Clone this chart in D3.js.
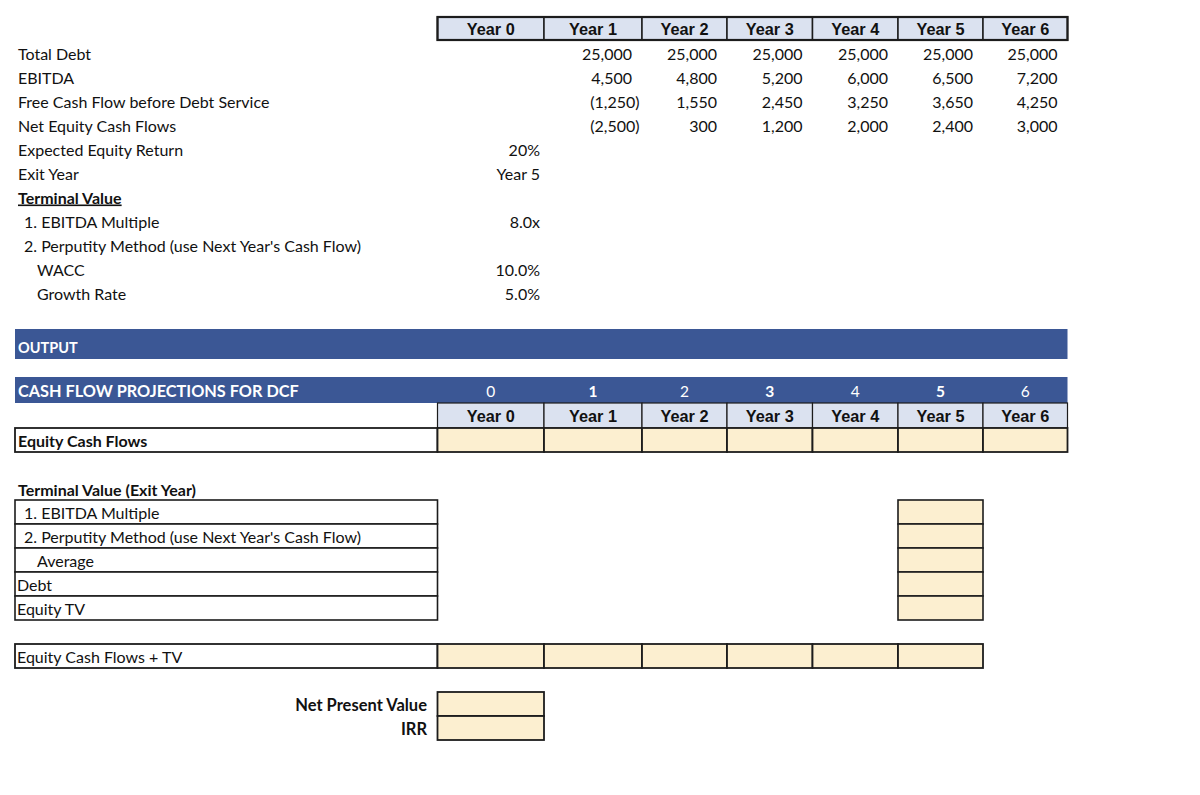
<!DOCTYPE html>
<html>
<head>
<meta charset="utf-8">
<script src="https://cdn.jsdelivr.net/npm/d3@7"></script>
<style>
  html, body { margin: 0; padding: 0; background: #ffffff; }
  svg { display: block; }
</style>
</head>
<body>
<svg id="chart" width="1200" height="795"></svg>
<script>
// ---------------- DATA ----------------
const years = ["Year 0", "Year 1", "Year 2", "Year 3", "Year 4", "Year 5", "Year 6"];
const periods = [0, 1, 2, 3, 4, 5, 6];

const inputLabels = ["Total Debt", "EBITDA", "Free Cash Flow before Debt Service", "Net Equity Cash Flows"];
const totalDebt = [null, 25000, 25000, 25000, 25000, 25000, 25000];
const ebitda = [null, 4500, 4800, 5200, 6000, 6500, 7200];
const freeCashFlow = [null, -1250, 1550, 2450, 3250, 3650, 4250];
const netEquityCashFlows = [null, -2500, 300, 1200, 2000, 2400, 3000];

const assumptionLabels = ["Expected Equity Return", "Exit Year", "Terminal Value", " 1. EBITDA Multiple",
  " 2. Perputity Method (use Next Year's Cash Flow)", "WACC", "Growth Rate"];
const assumptionValues = ["20%", "Year 5", "", "8.0x", "", "10.0%", "5.0%"];

const outputTitle = "OUTPUT";
const projTitle = "CASH FLOW PROJECTIONS FOR DCF";
const tvTitle = "Terminal Value (Exit Year)";
const tvLabels = ["1. EBITDA Multiple", "2. Perputity Method (use Next Year's Cash Flow)", "Average", "Debt", "Equity TV"];
const exitYear = "Year 5";
const eqcfLabel = "Equity Cash Flows";
const eqcfTvLabel = "Equity Cash Flows + TV";
const eqcfTvYears = ["Year 0", "Year 1", "Year 2", "Year 3", "Year 4", "Year 5"];
const resultLabels = ["Net Present Value", "IRR"];

// ---------------- LAYOUT ----------------
const colWidths = [106.5, 98, 85, 85.5, 85.5, 85, 84.5];
const col0 = 437.5;
const labelLeft = 15;
const colLeft = d3.scaleOrdinal().domain(years)
  .range(colWidths.map((w, i) => col0 + d3.sum(colWidths.slice(0, i))));
const colW = d3.scaleOrdinal().domain(years).range(colWidths);
const tableRight = col0 + d3.sum(colWidths);

const yTop = d3.scaleLinear().domain([0, 1]).range([17, 41]);     // upper block rows
const yLow = d3.scaleLinear().domain([0, 1]).range([428, 452]);   // lower block rows
const rowH = 24;

const BLUE = "#3b5795";
const HEAD = "#dbe2f0";
const YEL = "#fcefd0";
const LINE = "#1c1c1c";
const LABEL_FONT = "Lato, 'Open Sans', sans-serif";
const HEAD_FONT = "'Liberation Sans', Arial, sans-serif";
const FS = 16;
const HFS = 16.3;
const BL = 18.5; // baseline offset within a row

const svg = d3.select("#chart");

const fmtNum = v => {
  if (v == null) return "";
  const s = d3.format(",")(Math.abs(v));
  return v < 0 ? "(" + s + ")" : s;
};

// ---------- Top header row ----------
const head = svg.append("g");
head.selectAll("rect").data(years).join("rect")
  .attr("x", d => colLeft(d)).attr("y", yTop(0))
  .attr("width", d => colW(d)).attr("height", 23)
  .attr("fill", HEAD).attr("stroke", LINE).attr("stroke-width", 1.5);
head.append("rect").attr("x", col0).attr("y", yTop(0)).attr("width", tableRight - col0).attr("height", 23)
  .attr("fill", "none").attr("stroke", LINE).attr("stroke-width", 2.2);
head.selectAll("text").data(years).join("text")
  .attr("x", d => colLeft(d) + colW(d) / 2).attr("y", yTop(0) + 17.5)
  .attr("text-anchor", "middle").attr("font-family", HEAD_FONT).attr("font-weight", "bold")
  .attr("font-size", HFS).attr("fill", "#111").text(d => d);

// ---------- Input rows ----------
const inputSeries = [totalDebt, ebitda, freeCashFlow, netEquityCashFlows];
const inRows = svg.append("g");
inputLabels.forEach((lab, r) => {
  const yy = yTop(r + 1) + BL;
  inRows.append("text").attr("x", 18).attr("y", yy)
    .attr("font-family", LABEL_FONT).attr("font-size", FS).attr("fill", "#111").text(lab);
  inRows.append("g").selectAll("text").data(years).join("text")
    .attr("x", (d, i) => colLeft(d) + colW(d) - (inputSeries[r][i] < 0 ? 2.5 : 10))
    .attr("y", yy).attr("text-anchor", "end")
    .attr("font-family", LABEL_FONT).attr("font-size", FS).attr("fill", "#111")
    .text((d, i) => fmtNum(inputSeries[r][i]));
});

// ---------- Assumptions ----------
const asg = svg.append("g");
assumptionLabels.forEach((lab, r) => {
  const yy = yTop(r + 5) + BL;
  let x = 18;
  if (lab.startsWith(" ")) x = 24;
  if (lab === "WACC" || lab === "Growth Rate") x = 37;
  const t = asg.append("text").attr("x", x).attr("y", yy)
    .attr("font-family", LABEL_FONT).attr("font-size", FS).attr("fill", "#111").text(lab.trim());
  if (lab === "Terminal Value") {
    t.attr("font-weight", "bold").attr("text-decoration", "underline");
  }
  asg.append("text").attr("x", colLeft("Year 0") + colW("Year 0") - 4).attr("y", yy)
    .attr("text-anchor", "end").attr("font-family", LABEL_FONT).attr("font-size", FS)
    .attr("fill", "#111").text(assumptionValues[r]);
});

// ---------- OUTPUT bar ----------
svg.append("rect").attr("x", labelLeft).attr("y", 329).attr("width", tableRight - labelLeft).attr("height", 30)
  .attr("fill", BLUE);
svg.append("text").attr("x", 18).attr("y", 353).attr("font-family", LABEL_FONT).attr("font-weight", "bold")
  .attr("font-size", 14.5).attr("fill", "#fff").text(outputTitle);

// ---------- Projection bar ----------
svg.append("rect").attr("x", labelLeft).attr("y", 377).attr("width", tableRight - labelLeft).attr("height", 26)
  .attr("fill", BLUE);
svg.append("text").attr("x", 18).attr("y", 396.5).attr("font-family", LABEL_FONT).attr("font-weight", "bold")
  .attr("font-size", 16.3).attr("fill", "#fff").text(projTitle);
svg.append("g").selectAll("text").data(periods).join("text")
  .attr("x", (d, i) => colLeft(years[i]) + colW(years[i]) / 2).attr("y", 396.5)
  .attr("text-anchor", "middle").attr("font-family", LABEL_FONT)
  .attr("font-weight", d => d % 2 === 1 ? "bold" : "normal")
  .attr("font-size", 15.5).attr("fill", "#fff").text(d => d);

// ---------- Second header row ----------
const head2 = svg.append("g");
head2.selectAll("rect").data(years).join("rect")
  .attr("x", d => colLeft(d)).attr("y", 403)
  .attr("width", d => colW(d)).attr("height", 25)
  .attr("fill", HEAD).attr("stroke", LINE).attr("stroke-width", 1.2);
head2.selectAll("text").data(years).join("text")
  .attr("x", d => colLeft(d) + colW(d) / 2).attr("y", 421.5)
  .attr("text-anchor", "middle").attr("font-family", HEAD_FONT).attr("font-weight", "bold")
  .attr("font-size", HFS).attr("fill", "#111").text(d => d);

// ---------- Equity Cash Flows row ----------
const eqg = svg.append("g");
eqg.append("rect").attr("x", labelLeft).attr("y", yLow(0)).attr("width", col0 - labelLeft).attr("height", rowH)
  .attr("fill", "#fff").attr("stroke", LINE).attr("stroke-width", 1.8);
eqg.selectAll("rect.c").data(years).join("rect").attr("class", "c")
  .attr("x", d => colLeft(d)).attr("y", yLow(0)).attr("width", d => colW(d)).attr("height", rowH)
  .attr("fill", YEL).attr("stroke", LINE).attr("stroke-width", 1.8);
eqg.append("text").attr("x", 18).attr("y", yLow(0) + BL).attr("font-family", LABEL_FONT)
  .attr("font-weight", "bold").attr("font-size", FS).attr("fill", "#111").text(eqcfLabel);

// ---------- Terminal value block ----------
const tvg = svg.append("g");
tvg.append("text").attr("x", 18).attr("y", yLow(2) + 19.5).attr("font-family", LABEL_FONT)
  .attr("font-weight", "bold").attr("font-size", FS).attr("fill", "#111").text(tvTitle);
tvLabels.forEach((lab, r) => {
  const yr = yLow(r + 3);
  tvg.append("rect").attr("x", labelLeft).attr("y", yr).attr("width", col0 - labelLeft).attr("height", rowH)
    .attr("fill", "#fff").attr("stroke", LINE).attr("stroke-width", 1.6);
  tvg.append("rect").attr("x", colLeft(exitYear)).attr("y", yr).attr("width", colW(exitYear)).attr("height", rowH)
    .attr("fill", YEL).attr("stroke", LINE).attr("stroke-width", 1.6);
  const x = r < 2 ? 24 : (r === 2 ? 37 : 17);
  tvg.append("text").attr("x", x).attr("y", yr + BL).attr("font-family", LABEL_FONT)
    .attr("font-size", FS).attr("fill", "#111").text(lab);
});

// ---------- Equity Cash Flows + TV ----------
const etg = svg.append("g");
etg.append("rect").attr("x", labelLeft).attr("y", yLow(9)).attr("width", col0 - labelLeft).attr("height", rowH)
  .attr("fill", "#fff").attr("stroke", LINE).attr("stroke-width", 1.8);
etg.selectAll("rect.c").data(eqcfTvYears).join("rect").attr("class", "c")
  .attr("x", d => colLeft(d)).attr("y", yLow(9)).attr("width", d => colW(d)).attr("height", rowH)
  .attr("fill", YEL).attr("stroke", LINE).attr("stroke-width", 1.8);
etg.append("text").attr("x", 17).attr("y", yLow(9) + BL).attr("font-family", LABEL_FONT)
  .attr("font-size", FS).attr("fill", "#111").text(eqcfTvLabel);

// ---------- NPV / IRR ----------
const rg = svg.append("g");
resultLabels.forEach((lab, r) => {
  const yr = yLow(11 + r);
  rg.append("rect").attr("x", col0).attr("y", yr).attr("width", colW("Year 0")).attr("height", rowH)
    .attr("fill", YEL).attr("stroke", LINE).attr("stroke-width", 1.8);
  rg.append("text").attr("x", 427).attr("y", yr + BL).attr("text-anchor", "end")
    .attr("font-family", LABEL_FONT).attr("font-weight", "bold").attr("font-size", 16.5)
    .attr("fill", "#111").text(lab);
});
</script>
</body>
</html>
